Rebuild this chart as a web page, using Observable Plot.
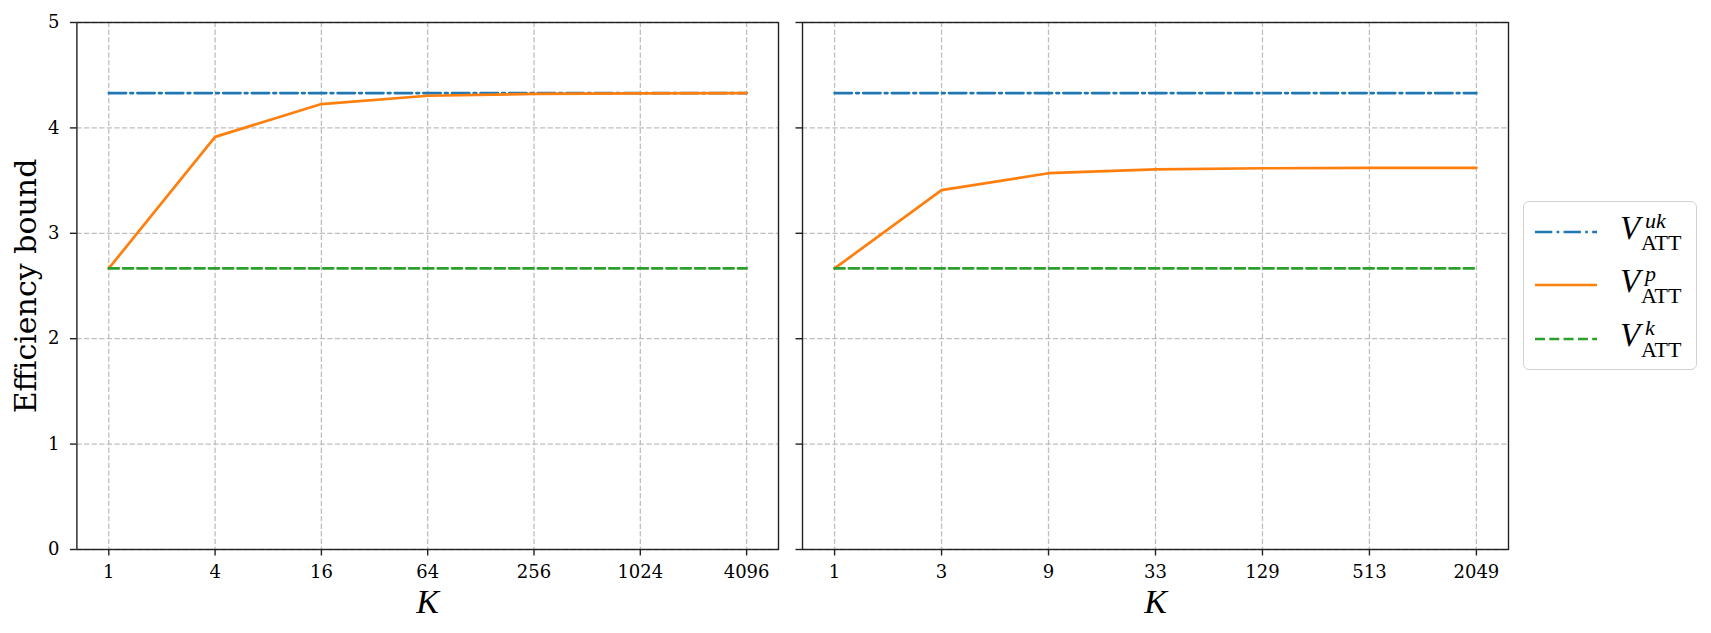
<!DOCTYPE html>
<html><head><meta charset="utf-8">
<script src="https://cdn.jsdelivr.net/npm/d3@7"></script>
<script src="https://cdn.jsdelivr.net/npm/@observablehq/plot@0.6"></script>
<style>
body{margin:0;background:#fff;}
#wrap{position:relative;width:1711px;height:633px;font-family:"DejaVu Serif",serif;}
#p1,#p2{position:absolute;top:0;}
#p1{left:0}
#p2{left:790px}
#legend{position:absolute;left:1523px;top:201px;width:174px;height:169px;box-sizing:border-box;border:1.4px solid #d2d2d2;border-radius:6px;background:#fff;}
.entry{position:absolute;left:0;width:100%;height:0;}
.entry svg{position:absolute;left:11px;top:-6px;overflow:visible;}
.m{position:absolute;font-family:"Liberation Serif",serif;line-height:1;white-space:nowrap;color:#000;}
.V{font-style:italic;font-size:33px;left:96px;top:-20px;}
.sup{font-style:italic;font-size:22px;left:121px;top:-22px;}
.sub{font-size:22px;left:117px;top:0px;}
</style>
</head><body>
<div id="wrap">
  <div id="p1"></div>
  <div id="p2"></div>
  <div id="legend"></div>
</div>
<script>
// ---- data ----
const kLeft = ["1", "4", "16", "64", "256", "1024", "4096"];
const kRight = ["1", "3", "9", "33", "129", "513", "2049"];
const vpLeft = [2.667, 3.915, 4.226, 4.305, 4.322, 4.328, 4.33];
const vpRight = [2.667, 3.41, 3.57, 3.607, 3.617, 3.62, 3.621];
const vUK = 4.33;
const vK = 2.667;
const yTicks = [0, 1, 2, 3, 4, 5];
const seriesNames = ["uk", "p", "k"];
const seriesColors = ["#1f77b4", "#ff7f0e", "#2ca02c"];
const dashes = ["17.3,4.3,2.7,4.3", null, "10,4.3"];

function panel(kLabels, vp, opts) {
  const idx = d3.range(kLabels.length);
  const rows = idx.map(i => ({i, vuk: vUK, vp: vp[i], vk: vK}));
  const gridStyle = {stroke: "#b8b8b8", strokeOpacity: 0.9, strokeWidth: 1.3, strokeDasharray: "5.3,2.3"};
  return Plot.plot({
    width: opts.width, height: 633,
    marginLeft: opts.ml, marginRight: opts.mr, marginTop: 22, marginBottom: 84,
    x: {type: "linear", domain: [-0.3, 6.3]},
    y: {domain: [0, 5]},
    style: {fontFamily: "DejaVu Serif", fontSize: "18px", color: "#000", background: "transparent"},
    marks: [
      Plot.gridX(idx, gridStyle),
      Plot.gridY(yTicks, gridStyle),
      Plot.line(rows, {x: "i", y: "vuk", stroke: seriesColors[0], strokeWidth: 2.7, strokeDasharray: dashes[0]}),
      Plot.line(rows, {x: "i", y: "vp", stroke: seriesColors[1], strokeWidth: 2.7}),
      Plot.line(rows, {x: "i", y: "vk", stroke: seriesColors[2], strokeWidth: 2.7, strokeDasharray: dashes[2]}),
      Plot.axisX(idx, {tickFormat: i => kLabels[i], tickSize: 6.5, tickPadding: 9.5, label: null, stroke: "#222", strokeWidth: 1.4}),
      Plot.axisY(yTicks, {tickFormat: opts.showY ? (d => String(d)) : (() => ""), tickSize: 6.5, tickPadding: 11, label: null, stroke: "#222", strokeWidth: 1.4}),
      Plot.frame({stroke: "#222", strokeWidth: 1.4}),
      Plot.text(["K"], {text: d => d, frameAnchor: "bottom", lineAnchor: "middle", dy: 53, fontStyle: "italic", fontFamily: "Liberation Serif", fontSize: 34}),
      opts.showY ? Plot.text(["Efficiency bound"], {text: d => d, frameAnchor: "left", textAnchor: "middle", lineAnchor: "middle", dx: -50.5, rotate: -90, fontSize: 30}) : null
    ]
  });
}

document.getElementById("p1").append(panel(kLeft, vpLeft, {width: 790, ml: 76.4, mr: 12, showY: true}));
document.getElementById("p2").append(panel(kRight, vpRight, {width: 730, ml: 12, mr: 12, showY: false}));

// legend
const legend = document.getElementById("legend");
const centers = [30, 83, 137];
seriesNames.forEach((name, j) => {
  const e = document.createElement("div");
  e.className = "entry";
  e.style.top = centers[j] + "px";
  const dash = dashes[j] ? ` stroke-dasharray="${dashes[j]}"` : "";
  e.innerHTML = `<svg width="64" height="12"><line x1="0" x2="62" y1="6" y2="6" stroke="${seriesColors[j]}" stroke-width="2.7"${dash}/></svg>` +
    `<span class="m V">V</span><span class="m sup">${name}</span><span class="m sub">ATT</span>`;
  legend.append(e);
});
</script>
</body></html>
